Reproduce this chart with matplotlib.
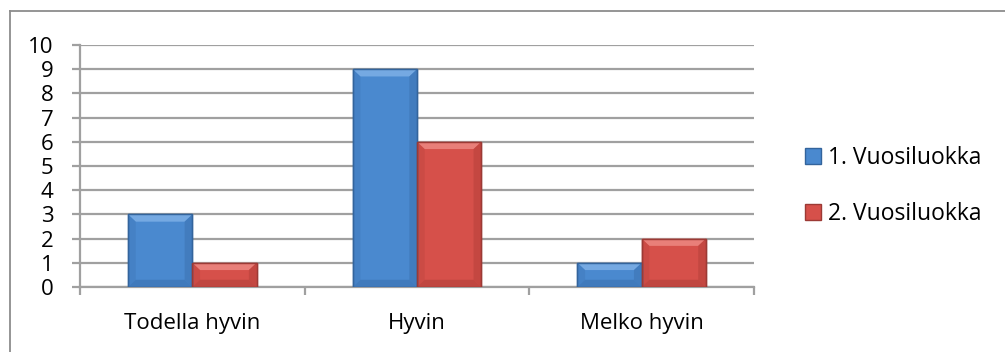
import matplotlib
matplotlib.use("Agg")
import matplotlib.pyplot as plt
from matplotlib.patches import Rectangle, Polygon
from matplotlib.lines import Line2D
from matplotlib.ticker import FixedLocator
import numpy as np

categories = ["Todella hyvin", "Hyvin", "Melko hyvin"]
series_names = ["1. Vuosiluokka", "2. Vuosiluokka"]
values_1 = [3, 9, 1]
values_2 = [1, 6, 2]
y_ticks = list(range(0, 11))

face_colors = ["#4a89cf", "#d6504a"]
edge_colors = ["#33649c", "#9c3a35"]
light_colors = ["#80b2e8", "#ef8c85"]
dark_colors = ["#3d74b4", "#b8423c"]

plt.rcParams["font.family"] = ["Open Sans", "DejaVu Sans"]

fig = plt.figure(figsize=(10.05, 3.52), dpi=100)
W, H = 1005, 352

# outer chart frame (top and left edges fall inside the canvas)
frame_kw = dict(transform=fig.transFigure, color="#8c8c8c", linewidth=1.3)
fig.lines.append(Line2D([9.5 / W, 1.0], [1 - 10.5 / H, 1 - 10.5 / H], **frame_kw))
fig.lines.append(Line2D([9.5 / W, 9.5 / W], [0.0, 1 - 10.5 / H], **frame_kw))

ax = fig.add_axes([80 / W, 65 / H, (754 - 80) / W, (287 - 45) / H])
ax.set_xlim(-0.5, 2.5)
ax.set_ylim(0, 10)

x = np.arange(len(categories))
bw = 0.286


def bevel_bar(x0, h, i):
    ax.bar(x0, h, width=bw, align="edge", color=face_colors[i],
           edgecolor=edge_colors[i], linewidth=1.0, zorder=3)
    dx = bw * 0.12
    dy = 0.3
    if h < 2 * dy:
        dy = h * 0.3
    # bevelled rim: light top, darker sides and bottom
    rims = [
        ([(x0, h), (x0 + bw, h), (x0 + bw - dx, h - dy), (x0 + dx, h - dy)], light_colors[i], 0.8),
        ([(x0, 0), (x0, h), (x0 + dx, h - dy), (x0 + dx, dy)], dark_colors[i], 0.35),
        ([(x0 + bw, 0), (x0 + bw, h), (x0 + bw - dx, h - dy), (x0 + bw - dx, dy)], dark_colors[i], 0.6),
        ([(x0, 0), (x0 + bw, 0), (x0 + bw - dx, dy), (x0 + dx, dy)], dark_colors[i], 0.7),
    ]
    for pts, col, a in rims:
        ax.add_patch(Polygon(pts, closed=True, facecolor=col, edgecolor="none",
                             alpha=a, zorder=4))
    ax.add_patch(Rectangle((x0, 0), bw, h, fill=False, edgecolor=edge_colors[i],
                           linewidth=1.0, zorder=5))


for xi, v in zip(x, values_1):
    bevel_bar(xi - bw, v, 0)
for xi, v in zip(x, values_2):
    bevel_bar(xi, v, 1)

ax.set_yticks(y_ticks)
ax.set_yticklabels([str(t) for t in y_ticks])
ax.yaxis.grid(True, color="#a0a0a0", linewidth=1.6, zorder=0)
ax.set_axisbelow(True)

ax.set_xticks(x)
ax.set_xticklabels(categories)
ax.xaxis.set_minor_locator(FixedLocator([-0.5, 0.5, 1.5, 2.5]))

for s in ["top", "right"]:
    ax.spines[s].set_visible(False)
for s in ["left", "bottom"]:
    ax.spines[s].set_color("#a0a0a0")
    ax.spines[s].set_linewidth(1.6)

ax.tick_params(axis="y", length=6, width=1.6, color="#a0a0a0", pad=13,
               labelsize=16, labelcolor="black")
ax.tick_params(axis="x", which="major", length=0, pad=19, labelsize=16)
ax.tick_params(axis="x", which="minor", length=6, width=1.6, color="#a0a0a0")

# legend
handles = [Rectangle((0, 0), 1, 1, facecolor=face_colors[i], edgecolor=edge_colors[i])
           for i in range(2)]
fig.legend(handles, series_names, loc="center left", bbox_to_anchor=(784 / W, 1 - 186 / H),
           frameon=False, fontsize=16.5, handlelength=0.7, handleheight=0.7,
           handletextpad=0.3, labelspacing=1.4)

fig.savefig("out.png", dpi=100)
